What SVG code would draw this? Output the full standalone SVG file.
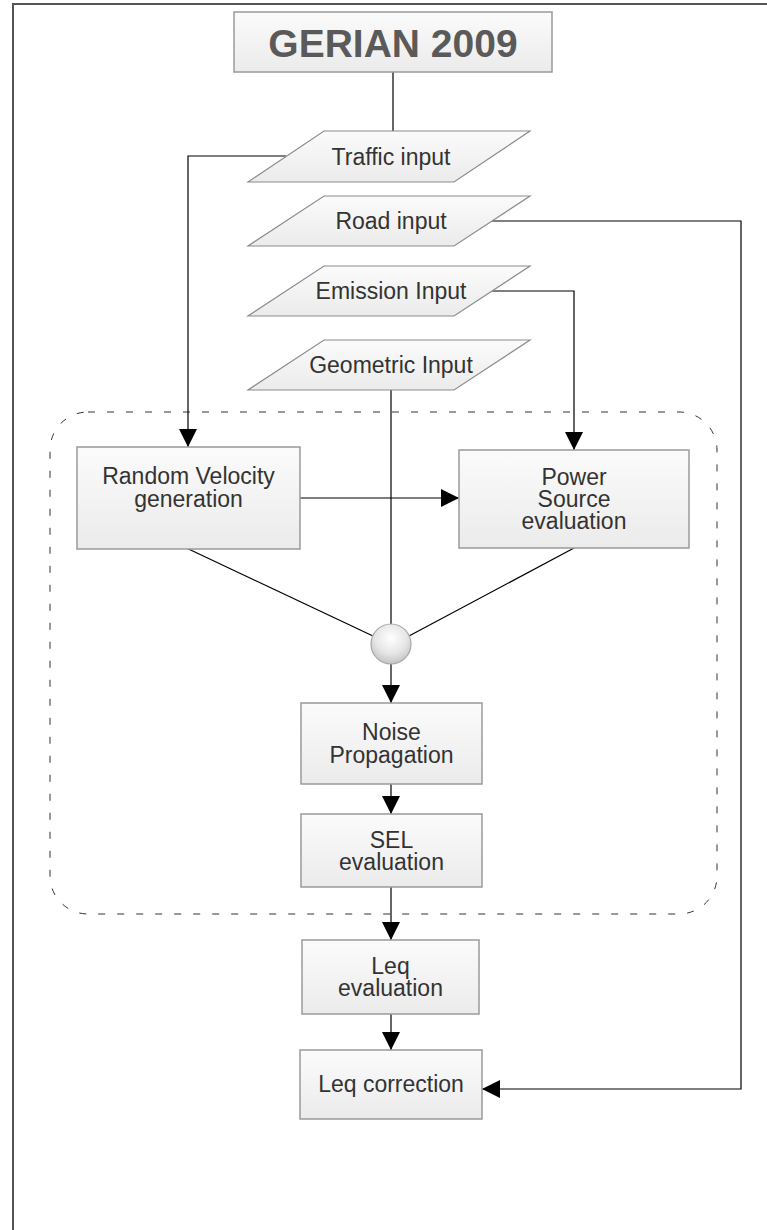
<svg xmlns="http://www.w3.org/2000/svg" width="767" height="1230" viewBox="0 0 767 1230">
<defs>
<linearGradient id="boxg" x1="0" y1="0" x2="0" y2="1">
<stop offset="0" stop-color="#fbfbfb"/>
<stop offset="1" stop-color="#ebebeb"/>
</linearGradient>
<radialGradient id="ballg" cx="0.5" cy="0.35" r="0.65">
<stop offset="0" stop-color="#ffffff"/>
<stop offset="0.6" stop-color="#e6e6e6"/>
<stop offset="1" stop-color="#c4c4c4"/>
</radialGradient>
<marker id="arr" markerUnits="userSpaceOnUse" markerWidth="18" markerHeight="18" refX="18" refY="9" orient="auto">
<path d="M0,0 L18,9 L0,18 z" fill="#000"/>
</marker>
<style>
.box{fill:url(#boxg);stroke:#9a9a9a;stroke-width:1.5}
.para{fill:url(#boxg);stroke:#8c8c8c;stroke-width:1.2}
.t{font-family:"Liberation Sans",Arial,sans-serif;font-size:23px;fill:#333;text-anchor:middle}
.title{font-family:"Liberation Sans",Arial,sans-serif;font-size:39px;font-weight:bold;fill:#5a5a5a;text-anchor:middle}
.c{fill:none;stroke:#000;stroke-width:1.2}
.ca{fill:none;stroke:#000;stroke-width:1.2;marker-end:url(#arr)}
</style>
</defs>
<rect x="13" y="4" width="820" height="1300" fill="#fff" stroke="#555" stroke-width="2"/>
<rect id="group-boundary" x="50" y="412" width="667" height="502" rx="38" ry="38" fill="none" stroke="#333" stroke-width="1" stroke-dasharray="7 12"/>
<g id="connectors">
<path class="c" d="M393,72 L393,131"/>
<path class="ca" d="M286,156 L188,156 L188,447"/>
<path class="ca" d="M492,221 L741,221 L741,1089 L482,1089"/>
<path class="ca" d="M492,291 L574,291 L574,450"/>
<path class="c" d="M391,390 L391,624"/>
<path class="ca" d="M300,498 L459,498"/>
<path class="c" d="M188.5,549 L373,636"/>
<path class="c" d="M574,548 L409,636"/>
<path class="ca" d="M391,664 L391,703"/>
<path class="ca" d="M391,784 L391,814"/>
<path class="ca" d="M391,887 L391,940"/>
<path class="ca" d="M391,1014 L391,1050"/>
</g>
<g id="gerian">
<rect class="box" x="234" y="12" width="318" height="60"/>
<text class="title" x="393" y="57">GERIAN 2009</text>
</g>
<g id="traffic-input">
<polygon class="para" points="324,131 530,131 454,182 248,182"/>
<text class="t" x="391" y="165">Traffic input</text>
</g>
<g id="road-input">
<polygon class="para" points="324,196 530,196 454,246 248,246"/>
<text class="t" x="391" y="229">Road input</text>
</g>
<g id="emission-input">
<polygon class="para" points="324,266 530,266 454,316 248,316"/>
<text class="t" x="391" y="299">Emission Input</text>
</g>
<g id="geometric-input">
<polygon class="para" points="324,340 530,340 454,390 248,390"/>
<text class="t" x="391" y="373">Geometric Input</text>
</g>
<g id="random-velocity">
<rect class="box" x="77" y="447" width="223" height="102"/>
<text class="t" x="188.5" y="484">Random Velocity</text>
<text class="t" x="188.5" y="507">generation</text>
</g>
<g id="power-source">
<rect class="box" x="459" y="450" width="230" height="98"/>
<text class="t" x="574" y="485">Power</text>
<text class="t" x="574" y="507">Source</text>
<text class="t" x="574" y="529">evaluation</text>
</g>
<g id="junction">
<circle cx="391" cy="644" r="20" fill="url(#ballg)" stroke="#a8a8a8" stroke-width="1.2"/>
</g>
<g id="noise-propagation">
<rect class="box" x="301" y="703" width="181" height="81"/>
<text class="t" x="391.5" y="740">Noise</text>
<text class="t" x="391.5" y="763">Propagation</text>
</g>
<g id="sel-evaluation">
<rect class="box" x="301" y="814" width="181" height="73"/>
<text class="t" x="391.5" y="848">SEL</text>
<text class="t" x="391.5" y="870">evaluation</text>
</g>
<g id="leq-evaluation">
<rect class="box" x="302" y="940" width="177" height="74"/>
<text class="t" x="390.5" y="974">Leq</text>
<text class="t" x="390.5" y="996">evaluation</text>
</g>
<g id="leq-correction">
<rect class="box" x="300" y="1050" width="182" height="69"/>
<text class="t" x="391" y="1092">Leq correction</text>
</g>
</svg>
